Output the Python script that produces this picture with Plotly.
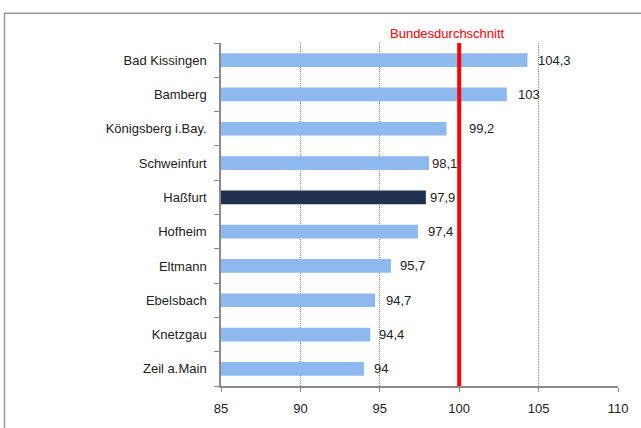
import plotly.graph_objects as go

categories = ["Bad Kissingen", "Bamberg", "Königsberg i.Bay.", "Schweinfurt", "Haßfurt",
              "Hofheim", "Eltmann", "Ebelsbach", "Knetzgau", "Zeil a.Main"]
values = [104.3, 103, 99.2, 98.1, 97.9, 97.4, 95.7, 94.7, 94.4, 94]
value_labels = ["104,3", "103", "99,2", "98,1", "97,9", "97,4", "95,7", "94,7", "94,4", "94"]
highlight = "Haßfurt"
average = 100
average_label = "Bundesdurchschnitt"
x_ticks = [85, 90, 95, 100, 105, 110]

# label gaps (px) to the right of each bar end, as placed in the original
label_gaps = [9, 9, 20, 1, 2, 8, 7, 9, 7, 8]

W, H = 641, 428
L, R, T, B = 221, 23, 43, 38
pw, ph = W - L - R, H - T - B
FONT = "Liberation Sans, Arial"

colors = ["#22304F" if c == highlight else "#8DB9EE" for c in categories]

fig = go.Figure()
fig.add_trace(go.Bar(
    y=categories, x=[v - 85 for v in values], base=85, orientation="h",
    marker=dict(color=colors, line=dict(width=0)),
    hoverinfo="skip",
))

for c, v, t, g in zip(categories, values, value_labels, label_gaps):
    fig.add_annotation(x=v, y=c, xref="x", yref="y", text=t, showarrow=False,
                       xanchor="left", xshift=g,
                       font=dict(family=FONT, size=13, color="#222222"))

fig.add_shape(type="line", xref="x", yref="paper", x0=average, x1=average, y0=0, y1=1,
              line=dict(color="#FF0000", width=4))
fig.add_annotation(xref="x", yref="paper", x=average, y=1, yshift=10, xshift=-12,
                   yanchor="middle", text=average_label, showarrow=False,
                   font=dict(family=FONT, size=13, color="#FF0000"))

# outer chart frame
fig.add_shape(type="rect", xref="paper", yref="paper",
              x0=(4.5 - L) / pw, x1=(W + 10 - L) / pw,
              y0=-(B + 10) / ph, y1=(H - B - 13) / ph,
              line=dict(color="#9A9A9A", width=1.5), layer="below")

fig.update_layout(
    width=W, height=H,
    margin=dict(l=L, r=R, t=T, b=B),
    paper_bgcolor="white", plot_bgcolor="white",
    showlegend=False, bargap=0.6,
    font=dict(family=FONT, size=13, color="#222222"),
)
fig.update_xaxes(range=[85, 110], tickvals=x_ticks, ticktext=[str(t) for t in x_ticks],
                 showgrid=True, gridcolor="#8A8A8A", griddash="1px,1px", gridwidth=1,
                 showline=True, linecolor="#8A8A8A", linewidth=1.5,
                 ticks="outside", ticklen=4, tickcolor="#8A8A8A", zeroline=False,
                 ticklabelstandoff=6, tickfont=dict(size=13))
fig.update_yaxes(categoryorder="array", categoryarray=categories[::-1],
                 showline=True, linecolor="#8A8A8A", linewidth=1.5,
                 ticks="outside", ticklen=5, tickcolor="#8A8A8A", tickson="boundaries",
                 showgrid=False, ticklabelstandoff=10, tickfont=dict(size=13))

fig.write_html("out.html", config={"displayModeBar": False},
               post_script="document.body.style.margin='0';document.body.style.overflow='hidden';")
